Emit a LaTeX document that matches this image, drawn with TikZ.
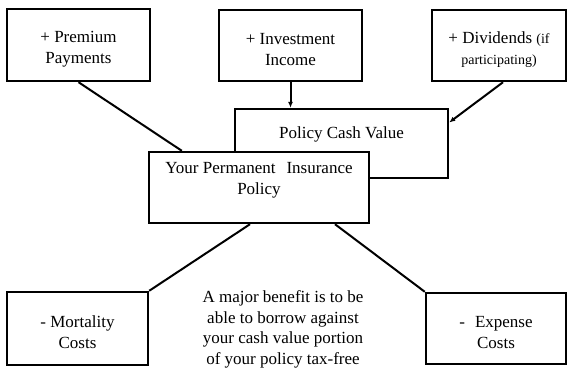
\documentclass[tikz,border=0pt]{standalone}
\usepackage{fontspec}
\setmainfont{Liberation Serif}
\usetikzlibrary{arrows.meta,calc,positioning}

\begin{document}
\begin{tikzpicture}[x=1pt,y=-1pt,>={Latex[length=6pt,width=5pt]},
	box/.style={draw,line width=2.4pt,fill=white,inner sep=0pt},
	txt/.style={align=center,inner sep=0pt,font=\fontsize{17}{21}\selectfont},
	boxtext/.style={label={[txt,yshift=-4pt]center:#1}},
	link/.style={line width=2pt}]
	\useasboundingbox (0,0) rectangle (569,367);
	\node[box,minimum width=143pt,minimum height=72pt,boxtext={+ Premium\\Payments}] (premium) at (78.5,45) {};
	\node[box,minimum width=143pt,minimum height=71pt,boxtext={+ Investment\\Income}] (income) at (290.5,45.5) {};
	\node[box,minimum width=134pt,minimum height=71pt,boxtext={+ Dividends {\fontsize{14}{16}\selectfont (if}\\{\fontsize{14}{16}\selectfont participating)}}] (dividends) at (499,45.5) {};
	\node[box,minimum width=213pt,minimum height=69pt] (cash) at (341.5,143.5) {};
	\node[box,minimum width=220pt,minimum height=71pt] (policy) at (259,187.5) {};
	\node[txt,below=19pt of cash.north] (cashlabel) {Policy Cash Value};
	\node[txt,below=11pt of policy.north] (policylabel) {Your Permanent\hspace{11pt}Insurance\\Policy};
	\node[box,minimum width=141pt,minimum height=73pt,boxtext={- Mortality\\Costs}] (mortality) at (77.5,328.5) {};
	\node[box,minimum width=140pt,minimum height=71pt,boxtext={-\hspace{10pt}Expense\\Costs}] (expense) at (496,328.5) {};
	\node[txt,font=\fontsize{17}{20.5}\selectfont] (benefit) at (283,329.5) {A major benefit is to be\\able to borrow against\\your cash value portion\\of your policy tax-free};

	\draw[link] (premium.south) -- ([xshift=34pt]policy.north west);
	\draw[link,->] (income.south) -- (income.south |- cash.north);
	\draw[link,->] ([xshift=4pt]dividends.south) -- ([yshift=21pt]cash.east);
	\draw[link] ([xshift=-9pt]policy.south) -- (mortality.north east);
	\draw[link] ([xshift=76pt]policy.south) -- (expense.north west);
\end{tikzpicture}
\end{document}
